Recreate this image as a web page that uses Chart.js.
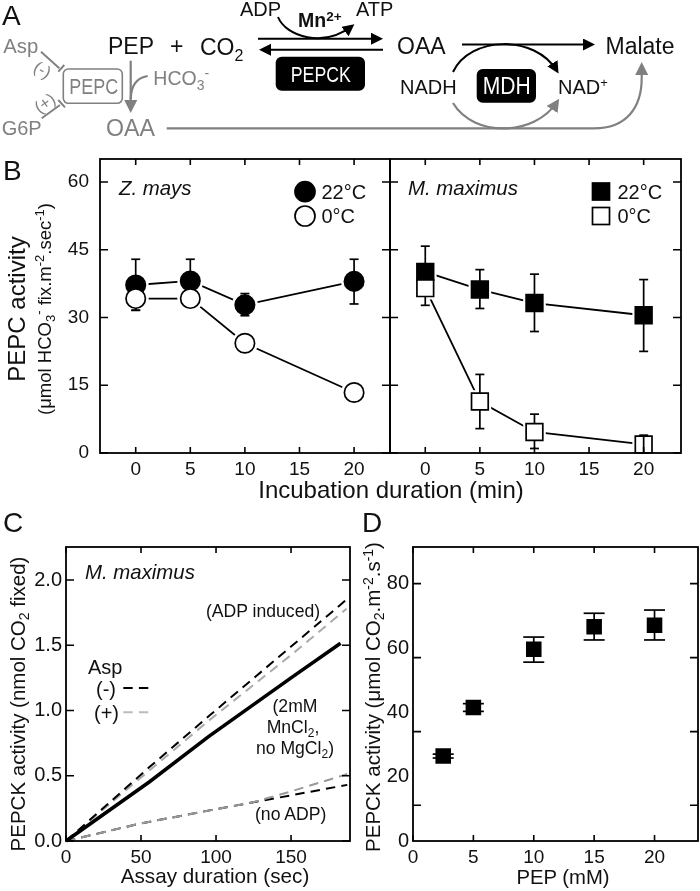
<!DOCTYPE html>
<html>
<head>
<meta charset="utf-8">
<title>PEPC and PEPCK activity</title>
<script src="https://cdn.jsdelivr.net/npm/chart.js@4/dist/chart.umd.min.js"></script>
<style>
  html, body { margin: 0; padding: 0; background: #fff; }
  #page { position: relative; width: 700px; height: 891px; overflow: hidden; }
  #page canvas { position: absolute; }
  #overlay { position: absolute; left: 0; top: 0; pointer-events: none; }
  text { font-family: "Liberation Sans", Arial, sans-serif; fill: #111; }
  .grey text, text.grey { fill: #808080; }
</style>
</head>
<body>
<div id="page">
<svg id="overlay" width="700" height="891" viewBox="0 0 700 891">
  <defs>
    <marker id="hb" markerWidth="14" markerHeight="14" refX="9" refY="6" orient="auto" markerUnits="userSpaceOnUse"><path d="M0 0L12 6L0 12Z" fill="#000"/></marker>
    <marker id="hg" markerWidth="14" markerHeight="14" refX="9" refY="6.5" orient="auto" markerUnits="userSpaceOnUse"><path d="M0 0L13 6.5L0 13Z" fill="#808080"/></marker>
  </defs>

  <!-- A: pathway -->
  <g font-size="23">
    <text x="2" y="25" font-size="28">A</text>
    <text x="108" y="54.3">PEP</text>
    <text x="170" y="54">+</text>
    <text x="200" y="55">CO<tspan font-size="16" dy="6">2</tspan></text>
    <text x="397" y="54.3">OAA</text>
    <text x="605.5" y="54.3">Malate</text>
    <g font-size="20">
      <text x="240" y="15.5">ADP</text>
      <text x="356" y="15.5">ATP</text>
      <text x="400" y="94.3">NADH</text>
      <text x="558" y="94.3">NAD<tspan font-size="13" dy="-7">+</tspan></text>
    </g>
    <text x="298" y="26.7" font-size="19.5" font-weight="bold">Mn<tspan font-size="13.5" dy="-6">2+</tspan></text>
  </g>
  <g fill="none" stroke="#000" stroke-width="2">
    <path d="M258 38.7H380" marker-end="url(#hb)"/>
    <path d="M383 49.7H262" marker-end="url(#hb)"/>
    <path d="M278 17C286 37 324 48 352 26" marker-end="url(#hb)"/>
    <path d="M462 44.5H592" marker-end="url(#hb)"/>
    <path d="M453 72C470 36 535 34 557 71" marker-end="url(#hb)"/>
  </g>
  <rect x="275.7" y="56.7" width="89.3" height="34" rx="6" fill="#000"/>
  <text x="320.8" y="81.7" font-size="22" text-anchor="middle" textLength="60" lengthAdjust="spacingAndGlyphs" style="fill:#fff">PEPCK</text>
  <rect x="476.7" y="69" width="59.3" height="33.7" rx="6" fill="#000"/>
  <text x="506.7" y="94" font-size="23" text-anchor="middle" textLength="48" lengthAdjust="spacingAndGlyphs" style="fill:#fff">MDH</text>
  <g fill="none" stroke="#808080" stroke-width="2.2">
    <path d="M453 103C474 138 535 136 557 102" marker-end="url(#hg)"/>
    <path d="M166.7 128.3H594C626 128.3 641.7 108 641.7 78V66" marker-end="url(#hg)"/>
    <path d="M130.7 60.7V109" marker-end="url(#hg)"/>
    <path d="M147.7 76C136 78 131 86 130.7 99"/>
    <rect x="63.3" y="69" width="59" height="34.3" rx="5" stroke-width="1.6"/>
    <path d="M41 51.7L59.3 68.3M58.3 71.7L64.3 65M41.7 118.3L60 105M58.3 100L65 107.3" stroke-width="1.9"/>
  </g>
  <g class="grey">
    <text x="3.3" y="52.5" font-size="20.3">Asp</text>
    <text x="1.7" y="135" font-size="20">G6P</text>
    <text x="106" y="136" font-size="23.2">OAA</text>
    <text x="153.3" y="85" font-size="19.5">HCO<tspan font-size="14" dy="5">3</tspan><tspan font-size="14" dy="-12">-</tspan></text>
    <text x="93.8" y="94.3" font-size="22" text-anchor="middle" textLength="49" lengthAdjust="spacingAndGlyphs">PEPC</text>
    <text font-size="17" text-anchor="middle" dominant-baseline="central" transform="translate(42.3 70) rotate(30)">(-)</text>
    <text font-size="17" text-anchor="middle" dominant-baseline="central" transform="translate(45 103.3) rotate(-35)">(+)</text>
  </g>

  <!-- B -->
  <text x="3" y="180" font-size="28">B</text>
  <text font-size="24" text-anchor="middle" transform="translate(25 309) rotate(-90)">PEPC activity</text>
  <text font-size="18.5" text-anchor="middle" transform="translate(51 309) rotate(-90)">(μmol HCO<tspan font-size="13" dy="4">3</tspan><tspan font-size="13" dy="-12">-</tspan><tspan dy="8"> fix.m</tspan><tspan font-size="13" dy="-7">-2</tspan><tspan dy="7">.sec</tspan><tspan font-size="13" dy="-7">-1</tspan><tspan dy="7">)</tspan></text>
  <text x="391" y="498" font-size="24" text-anchor="middle">Incubation duration (min)</text>
  <text x="119" y="195" font-size="20.4" font-style="italic">Z. mays</text>
  <text x="408" y="195" font-size="20.4" font-style="italic">M. maximus</text>
  <circle cx="305" cy="191.7" r="10" fill="#000" stroke="#000" stroke-width="1.7"/>
  <circle cx="305" cy="216" r="10" fill="#fff" stroke="#000" stroke-width="1.7"/>
  <text x="321.5" y="199" font-size="20">22°C</text>
  <text x="321.5" y="223" font-size="20">0°C</text>
  <rect x="592.5" y="183" width="17" height="17" fill="#000" stroke="#000" stroke-width="1.7"/>
  <rect x="592.5" y="207.5" width="17" height="17" fill="#fff" stroke="#000" stroke-width="1.7"/>
  <text x="617.5" y="199" font-size="20">22°C</text>
  <text x="617.5" y="223" font-size="20">0°C</text>

  <!-- C -->
  <text x="3" y="532" font-size="28">C</text>
  <text font-size="20.5" text-anchor="middle" transform="translate(25 704) rotate(-90)">PEPCK activity (nmol CO<tspan font-size="14" dy="4">2</tspan><tspan dy="-4"> fixed)</tspan></text>
  <text x="215" y="883" font-size="20.7" text-anchor="middle">Assay duration (sec)</text>
  <text x="85" y="579" font-size="20.4" font-style="italic">M. maximus</text>
  <text x="206" y="617" font-size="17.6">(ADP induced)</text>
  <text x="88" y="674" font-size="20">Asp</text>
  <text x="96" y="696" font-size="20">(-)</text>
  <text x="94" y="720" font-size="20">(+)</text>
  <path d="M123.3 688H148.3" stroke="#000" stroke-width="2" stroke-dasharray="9.4 6.2"/>
  <path d="M123.3 712.3H148.3" stroke="#bbb" stroke-width="2" stroke-dasharray="9.4 6.2"/>
  <g font-size="17.6" text-anchor="middle">
    <text x="295" y="712">(2mM</text>
    <text x="293" y="732.5">MnCl<tspan font-size="12" dy="4">2</tspan><tspan dy="-4">,</tspan></text>
    <text x="295" y="754">no MgCl<tspan font-size="12" dy="4">2</tspan><tspan dy="-4">)</tspan></text>
  </g>
  <text x="255" y="820" font-size="17.6">(no ADP)</text>

  <!-- D -->
  <text x="362" y="532" font-size="28">D</text>
  <text font-size="20.5" text-anchor="middle" transform="translate(380 697) rotate(-90)">PEPCK activity (μmol CO<tspan font-size="14" dy="4">2</tspan><tspan dy="-4">.m</tspan><tspan font-size="14" dy="-7">-2</tspan><tspan dy="7">.s</tspan><tspan font-size="14" dy="-7">-1</tspan><tspan dy="7">)</tspan></text>
  <text x="563" y="884" font-size="20.3" text-anchor="middle">PEP (mM)</text>
</svg>
</div>

<script>
// B: incubation series
const incubationTimes = [0, 5, 10, 20];
const zmays22 = [37.2, 38.1, 32.8, 38.0];
const zmays22Hi = [42.9, 42.9, 35.3, 42.9];
const zmays22Lo = [31.6, 33.5, 30.4, 33.0];
const zmays0 = [34.2, 34.2, 24.3, 13.4];
const zmays0Hi = [36.0, 36.0, 25.5, 14.5];
const zmays0Lo = [31.6, 32.5, 23.0, 12.3];
const maximus22 = [40.1, 36.2, 33.2, 30.5];
const maximus22Hi = [45.8, 40.6, 39.6, 38.4];
const maximus22Lo = [36.0, 32.0, 26.9, 22.5];
const maximus0 = [36.5, 11.4, 4.65, 1.9];
const maximus0Hi = [38.0, 17.4, 8.6, 3.9];
const maximus0Lo = [32.7, 5.4, 1.0, 0.0];

// B: axes
const incubationXTicks = [0, 5, 10, 15, 20];
const activityYTicks = [0, 15, 30, 45, 60];

// C: assay traces
const solidTime = [0, 55.7, 95, 150, 183];
const solidValue = [0, 0.454, 0.8, 1.25, 1.515];
const adpTime = [0, 56, 96, 150, 187];
const adpMinus = [0, 0.57, 0.965, 1.49, 1.85];
const adpPlus = [0, 0.545, 0.93, 1.425, 1.78];
const noAdpTime = [0, 50, 96, 124, 150, 187.5];
const noAdpMinus = [0, 0.135, 0.235, 0.295, 0.35, 0.43];
const noAdpPlus = [0, 0.135, 0.235, 0.295, 0.38, 0.513];

// C: axes
const assayXTicks = [0, 50, 100, 150];
const assayYTicks = [0, 0.5, 1, 1.5, 2];

// D: PEP response
const pepConc = [2.5, 5, 10, 15, 20];
const pepActivity = [26.4, 41.5, 59.6, 66.6, 67.1];
const pepHi = [27.0, 42.7, 63.4, 70.8, 71.8];
const pepLo = [25.8, 40.3, 55.6, 62.5, 62.5];

// D: axes (the tick marks do not sit on the labelled values in the original)
const pepXTicks = [0, 5, 10, 15, 20];
const pepYLabels = [0, 20, 40, 60, 80];
const pepYMarks = [11.1, 34, 57, 80];

const FONT = '"Liberation Sans", Arial, sans-serif';
const page = document.getElementById('page');

// Frame and inward tick marks, placed through the chart's own scales
const framePlugin = {
    id: 'frame',
    afterDatasetsDraw(chart, args, opts) {
        const { ctx, chartArea: a, scales } = chart;
        ctx.save();
        ctx.strokeStyle = '#000';
        ctx.lineWidth = 1.8;
        ctx.strokeRect(a.left, a.top, a.right - a.left, a.bottom - a.top);
        ctx.lineWidth = 1.6;
        ctx.beginPath();
        opts.xMarks.forEach(v => {
            const x = scales.x.getPixelForValue(v);
            ctx.moveTo(x, a.top); ctx.lineTo(x, a.top + 6);
            ctx.moveTo(x, a.bottom); ctx.lineTo(x, a.bottom - 6);
        });
        opts.yMarks.forEach(v => {
            const y = scales.y.getPixelForValue(v);
            ctx.moveTo(a.left, y); ctx.lineTo(a.left + 8, y);
            ctx.moveTo(a.right, y); ctx.lineTo(a.right - 8, y);
        });
        ctx.stroke();
        ctx.restore();
    }
};

function pairs(xs, ys) {
    return xs.map((x, i) => ({ x: x, y: ys[i] }));
}

function lineSet(xs, ys, color, width, order, dash) {
    return {
        data: pairs(xs, ys), showLine: true, pointRadius: 0, borderColor: color,
        borderWidth: width, borderDash: dash || [], order: order, tension: 0, clip: false
    };
}

function pointSet(xs, ys, style, radius, fill, border, order) {
    return {
        data: pairs(xs, ys), showLine: false, pointStyle: style, pointRadius: radius,
        pointBackgroundColor: fill, pointBorderColor: border, pointBorderWidth: border === '#fff' ? 0 : 1.7,
        order: order, clip: border === '#fff' ? undefined : false
    };
}

// Each error bar is a short two point line whose ends use the 'line' point style as caps
function errorSets(xs, lo, hi, cap, order) {
    return xs.map((x, i) => ({
        data: [{ x: x, y: lo[i] }, { x: x, y: hi[i] }], showLine: true,
        borderColor: '#000', borderWidth: 1.7, pointStyle: 'line', pointRadius: cap,
        pointBorderColor: '#000', pointBorderWidth: 1.7, order: order, clip: false
    }));
}

function panel(cfg) {
    const canvas = document.createElement('canvas');
    const width = cfg.x1 - cfg.x0 + cfg.left + 6;
    const height = cfg.y1 - cfg.y0 + cfg.bottom + 6;
    canvas.width = width;
    canvas.height = height;
    canvas.style.left = (cfg.x0 - cfg.left) + 'px';
    canvas.style.top = (cfg.y0 - 6) + 'px';
    page.insertBefore(canvas, page.firstChild);
    new Chart(canvas, {
        type: 'scatter',
        data: { datasets: cfg.datasets },
        plugins: [framePlugin],
        options: {
            responsive: false,
            animation: false,
            layout: { autoPadding: false, padding: { top: 6, right: 6, left: 0, bottom: 0 } },
            plugins: {
                legend: { display: false },
                tooltip: { enabled: false },
                frame: { xMarks: cfg.xTicks, yMarks: cfg.yMarks || cfg.yTicks }
            },
            scales: {
                x: {
                    type: 'linear', min: cfg.xMin, max: cfg.xMax,
                    grid: { display: false, drawTicks: false }, border: { display: false },
                    afterBuildTicks: s => { s.ticks = cfg.xTicks.map(v => ({ value: v })); },
                    afterFit: s => { s.height = cfg.bottom; s.paddingLeft = 0; s.paddingRight = 0; },
                    ticks: {
                        autoSkip: false, maxRotation: 0, color: '#111', padding: cfg.xPad,
                        font: { family: FONT, size: 19 }, callback: v => String(v)
                    }
                },
                y: {
                    type: 'linear', min: cfg.yMin, max: cfg.yMax,
                    grid: { display: false, drawTicks: false }, border: { display: false },
                    afterBuildTicks: s => { s.ticks = cfg.yTicks.map(v => ({ value: v })); },
                    afterFit: s => { s.width = cfg.left; s.paddingTop = 0; s.paddingBottom = 0; },
                    ticks: {
                        display: cfg.showY, autoSkip: false, color: '#111', padding: cfg.yPad,
                        font: { family: FONT, size: cfg.yFont || 19 },
                        callback: cfg.yFormat || (v => String(v))
                    }
                }
            }
        }
    });
}

// Panel B, Z. mays
panel({
    x0: 100, x1: 390, y0: 159, y1: 453, left: 50, bottom: 30,
    xMin: -3.27, xMax: 23.29, yMin: 0, yMax: 65.1,
    xTicks: incubationXTicks, yTicks: activityYTicks, showY: true, xPad: 5, yPad: 11,
    datasets: [
        lineSet(incubationTimes, zmays22, '#000', 1.8, 90),
        lineSet(incubationTimes, zmays0, '#000', 1.8, 90),
        pointSet(incubationTimes, zmays22, 'circle', 13, '#fff', '#fff', 80),
        pointSet(incubationTimes, zmays0, 'circle', 13, '#fff', '#fff', 80),
        ...errorSets(incubationTimes, zmays22Lo, zmays22Hi, 4.5, 70),
        pointSet(incubationTimes, zmays22, 'circle', 9.7, '#000', '#000', 60),
        ...errorSets(incubationTimes, zmays0Lo, zmays0Hi, 4.5, 55),
        pointSet(incubationTimes, zmays0, 'circle', 9.7, '#fff', '#000', 50)
    ]
});

// Panel B, M. maximus
panel({
    x0: 390, x1: 681, y0: 159, y1: 453, left: 2, bottom: 30,
    xMin: -3.23, xMax: 23.42, yMin: 0, yMax: 65.1,
    xTicks: incubationXTicks, yTicks: activityYTicks, showY: false, xPad: 5, yPad: 0,
    datasets: [
        lineSet(incubationTimes, maximus22, '#000', 1.8, 90),
        lineSet(incubationTimes, maximus0, '#000', 1.8, 90),
        pointSet(incubationTimes, maximus22, 'rect', 16, '#fff', '#fff', 80),
        pointSet(incubationTimes, maximus0, 'rect', 16, '#fff', '#fff', 80),
        ...errorSets(incubationTimes, maximus22Lo, maximus22Hi, 4.5, 70),
        ...errorSets(incubationTimes, maximus0Lo, maximus0Hi, 4.5, 70),
        pointSet(incubationTimes, maximus22, 'rect', 11.8, '#000', '#000', 60),
        pointSet(incubationTimes, maximus0, 'rect', 11.8, '#fff', '#000', 50),
        ...errorSets(incubationTimes.slice(3), maximus0Lo.slice(3), maximus0Hi.slice(3), 4, 40)
    ]
});

// Panel C
panel({
    x0: 66, x1: 350, y0: 547, y1: 841, left: 50, bottom: 30,
    xMin: 0, xMax: 189.3, yMin: 0, yMax: 2.253,
    xTicks: assayXTicks, yTicks: assayYTicks, showY: true, xPad: 5, yPad: 4, yFont: 20,
    yFormat: v => v.toFixed(1),
    datasets: [
        lineSet(adpTime, adpPlus, '#aaa', 2, 30, [9.4, 6.2]),
        lineSet(adpTime, adpMinus, '#000', 2, 20, [9.4, 6.2]),
        lineSet(noAdpTime, noAdpMinus, '#000', 2, 30, [9.4, 6.2]),
        lineSet(noAdpTime, noAdpPlus, '#999', 2, 20, [9.4, 6.2]),
        lineSet(solidTime, solidValue, '#000', 3.6, 10)
    ]
});

// Panel D
panel({
    x0: 413, x1: 698, y0: 547, y1: 841, left: 50, bottom: 30,
    xMin: 0, xMax: 23.6, yMin: 0, yMax: 91.4,
    xTicks: pepXTicks, yTicks: pepYLabels, yMarks: pepYMarks, showY: true, xPad: 5, yPad: 4, yFont: 20,
    datasets: [
        ...errorSets(pepConc, pepLo, pepHi, 10.5, 20),
        pointSet(pepConc, pepActivity, 'rect', 9.8, '#000', '#000', 10)
    ]
});
</script>
</body>
</html>
